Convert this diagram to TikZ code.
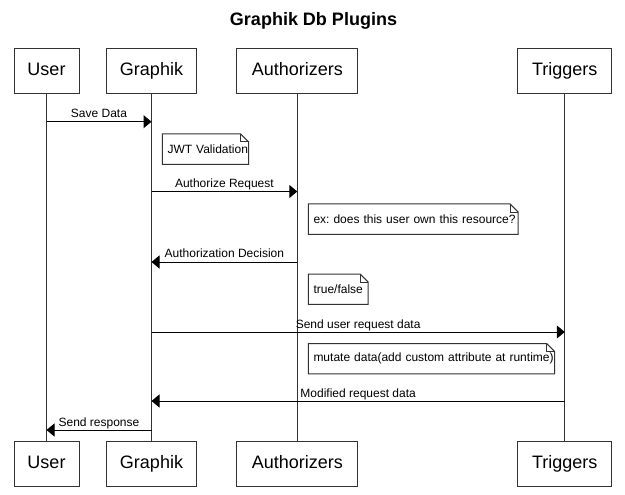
\documentclass[tikz,border=0pt]{standalone}
\usepackage{fontspec}
\setmainfont{Liberation Sans}
\usetikzlibrary{arrows.meta}
\frenchspacing
\newcommand\notefold[1]{%
  \draw[noteline] (#1.north west) -- ([xshift=-8pt]#1.north east) -- ([yshift=-8pt]#1.north east) -- (#1.south east) -- (#1.south west) -- cycle;
  \draw[noteline] ([xshift=-8pt]#1.north east) -- ([xshift=-8pt,yshift=-8pt]#1.north east) -- ([yshift=-8pt]#1.north east);}
\begin{document}
\begin{tikzpicture}[x=1pt,y=-1pt,
  actor/.style={draw=black!80, line width=1pt, minimum height=45pt, inner sep=0pt, text height=13pt, text depth=3.8pt, font=\fontsize{18}{21}\selectfont},
  life/.style={draw=black!80, line width=1pt},
  msg/.style={draw=black, line width=1pt, -{Triangle[length=8pt,width=13pt]}},
  mlabel/.style={font=\fontsize{12}{14}\selectfont, inner sep=0pt, anchor=base, yshift=4pt},
  notebox/.style={inner xsep=5pt, inner ysep=0pt, minimum height=30pt, anchor=north west, align=left, font=\fontsize{12}{14}\selectfont},
  noteline/.style={draw=black!80, line width=1pt},
]
\path[use as bounding box, fill=white] (0,0) rectangle (625,495);

\node[font=\fontsize{18}{21}\selectfont\bfseries] (title) at (313.5,20.7) {Graphik Db Plugins};

% actors top
\node[actor, minimum width=65pt]  (Ut) at (46.5,70.8)  {User};
\node[actor, minimum width=90pt]  (Gt) at (151.5,70.8) {Graphik};
\node[actor, minimum width=121pt] (At) at (297.3,70.8) {Authorizers};
\node[actor, minimum width=94pt]  (Tt) at (564.8,70.8) {Triggers};
% actors bottom
\node[actor, minimum width=65pt]  (Ub) at (46.5,463.9)  {User};
\node[actor, minimum width=90pt]  (Gb) at (151.5,463.9) {Graphik};
\node[actor, minimum width=121pt] (Ab) at (297.3,463.9) {Authorizers};
\node[actor, minimum width=94pt]  (Tb) at (564.8,463.9) {Triggers};

% lifelines
\draw[life] (Ut.south) -- (Ub.north);
\draw[life] (Gt.south) -- (Gb.north);
\draw[life] (At.south) -- (Ab.north);
\draw[life] (Tt.south) -- (Tb.north);

% message end points on lifelines
\coordinate (m1a) at (Ut.south |- 0,121.7);
\coordinate (m1b) at (Gt.south |- 0,121.7);
\coordinate (m2a) at (Gt.south |- 0,191.5);
\coordinate (m2b) at (At.south |- 0,191.5);
\coordinate (m3a) at (At.south |- 0,262);
\coordinate (m3b) at (Gt.south |- 0,262);
\coordinate (m4a) at (Gt.south |- 0,332);
\coordinate (m4b) at (Tt.south |- 0,332);
\coordinate (m5a) at (Tt.south |- 0,401);
\coordinate (m5b) at (Gt.south |- 0,401);
\coordinate (m6a) at (Gt.south |- 0,430);
\coordinate (m6b) at (Ut.south |- 0,430);

\draw[msg] (m1a) -- node[mlabel] {Save Data} (m1b);
\draw[msg] (m2a) -- node[mlabel] {Authorize Request} (m2b);
\draw[msg] (m3a) -- node[mlabel] {Authorization Decision} (m3b);
\draw[msg] (m4a) -- node[mlabel] {Send user request data} (m4b);
\draw[msg] (m5a) -- node[mlabel] {Modified request data} (m5b);
\draw[msg] (m6a) -- node[mlabel] {Send response} (m6b);

% notes
\node[notebox, text width=76pt] (n1) at (162.3,134) {\mbox{JWT Validation}};
\notefold{n1}
\node[notebox, text width=199.4pt] (n2) at (308.3,204) {\mbox{ex: does this user own this resource?}};
\notefold{n2}
\node[notebox, text width=49.4pt] (n3) at (308.3,274) {\mbox{true/false}};
\notefold{n3}
\node[notebox, text width=236pt] (n4) at (308.3,343.5) {\mbox{mutate data(add custom attribute at runtime)}};
\notefold{n4}
\end{tikzpicture}
\end{document}
